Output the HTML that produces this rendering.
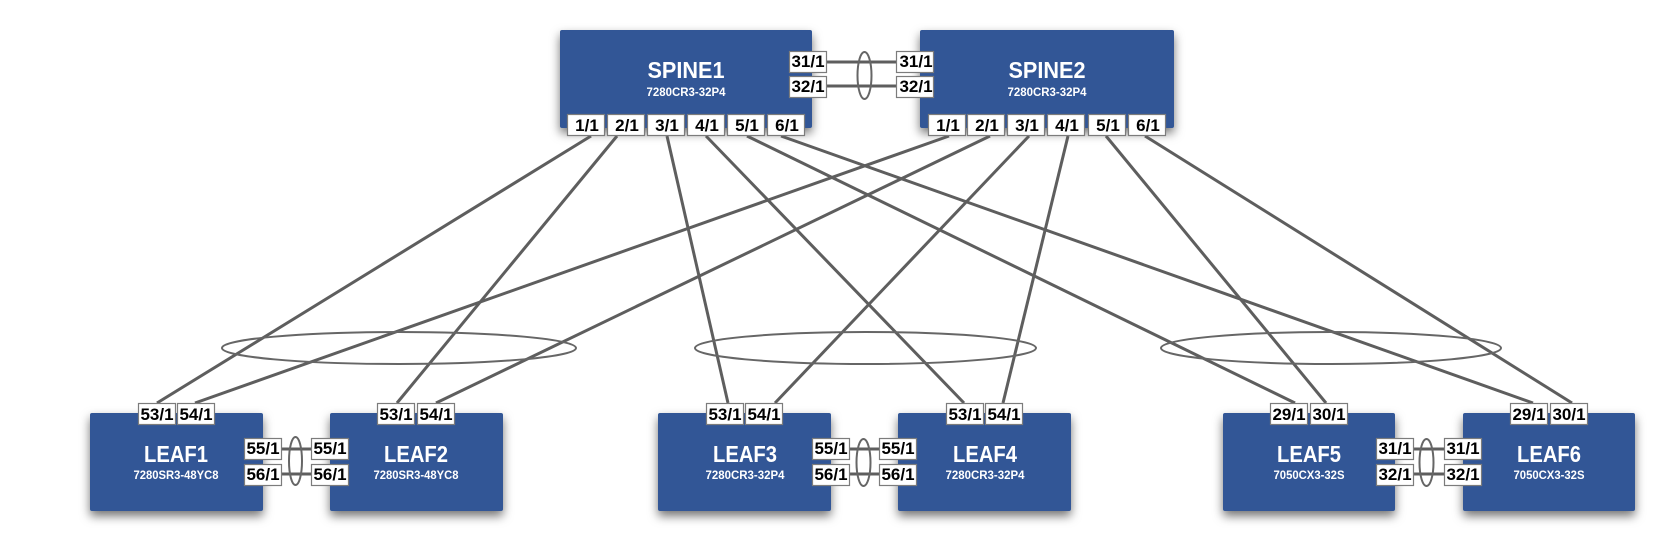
<!DOCTYPE html>
<html><head><meta charset="utf-8"><style>
html,body{margin:0;padding:0;background:#fff;width:1672px;height:544px;overflow:hidden}
svg{display:block}
text{font-family:"Liberation Sans",sans-serif;font-weight:bold;text-anchor:middle}
.n{fill:#fff;font-size:23px}
.s{fill:#fff;font-size:12px}
.p{fill:#000;font-size:17px}
.b{fill:#305796;rx:2px;ry:2px;filter:url(#sh)}
.r{fill:#fff;stroke:#7c7c7c;stroke-width:1.2}
.l line{stroke:#5e5e5e;stroke-width:3}
.e{fill:none;stroke:#666;stroke-width:2}
</style></head><body>
<svg width="1672" height="544" viewBox="0 0 1672 544" xmlns="http://www.w3.org/2000/svg">
<defs><filter id="sh" x="-15%" y="-20%" width="130%" height="150%"><feDropShadow dx="0" dy="5" stdDeviation="5" flood-color="#000" flood-opacity=".55"/></filter></defs>

<rect class="b" x="560" y="30" width="252" height="98"/>
<rect class="b" x="920" y="30" width="254" height="98"/>
<rect class="b" x="90" y="413" width="173" height="98"/>
<rect class="b" x="330" y="413" width="173" height="98"/>
<rect class="b" x="658" y="413" width="173" height="98"/>
<rect class="b" x="898" y="413" width="173" height="98"/>
<rect class="b" x="1223" y="413" width="172" height="98"/>
<rect class="b" x="1463" y="413" width="172" height="98"/>

<g class="l">
<line x1="591" y1="136" x2="157" y2="403"/>
<line x1="617" y1="136" x2="397" y2="403"/>
<line x1="667" y1="136" x2="728" y2="403"/>
<line x1="706" y1="136" x2="964" y2="403"/>
<line x1="747" y1="136" x2="1295" y2="403"/>
<line x1="781" y1="136" x2="1533" y2="403"/>
<line x1="949" y1="136" x2="195" y2="403"/>
<line x1="990" y1="136" x2="436" y2="403"/>
<line x1="1029" y1="136" x2="775" y2="403"/>
<line x1="1068" y1="136" x2="1003" y2="403"/>
<line x1="1106" y1="136" x2="1326" y2="403"/>
<line x1="1145" y1="136" x2="1572" y2="403"/>
<line x1="827" y1="62" x2="896" y2="62"/>
<line x1="827" y1="86" x2="896" y2="86"/>
<line x1="282" y1="449" x2="311" y2="449"/>
<line x1="282" y1="474" x2="311" y2="474"/>
<line x1="850" y1="449" x2="879" y2="449"/>
<line x1="850" y1="474" x2="879" y2="474"/>
<line x1="1414" y1="449" x2="1444" y2="449"/>
<line x1="1414" y1="474" x2="1444" y2="474"/>
</g>

<ellipse class="e" cx="864.500" cy="75.500" rx="7" ry="23.500"/>
<ellipse class="e" cx="295.500" cy="461" rx="6.500" ry="24"/>
<ellipse class="e" cx="863.500" cy="462.500" rx="7" ry="23.500"/>
<ellipse class="e" cx="1426.500" cy="462.500" rx="7" ry="23.500"/>
<ellipse class="e" cx="399" cy="348" rx="177" ry="16"/>
<ellipse class="e" cx="865.500" cy="348" rx="170.500" ry="16"/>
<ellipse class="e" cx="1331" cy="348" rx="170" ry="16"/>

<text class="n" x="686" y="78" textLength="77" lengthAdjust="spacingAndGlyphs">SPINE1</text>
<text class="s" x="686" y="96" textLength="79" lengthAdjust="spacingAndGlyphs">7280CR3-32P4</text>
<text class="n" x="1047" y="78" textLength="77" lengthAdjust="spacingAndGlyphs">SPINE2</text>
<text class="s" x="1047" y="96" textLength="79" lengthAdjust="spacingAndGlyphs">7280CR3-32P4</text>
<text class="n" x="176" y="462" textLength="64" lengthAdjust="spacingAndGlyphs">LEAF1</text>
<text class="s" x="176" y="479" textLength="85" lengthAdjust="spacingAndGlyphs">7280SR3-48YC8</text>
<text class="n" x="416" y="462" textLength="64" lengthAdjust="spacingAndGlyphs">LEAF2</text>
<text class="s" x="416" y="479" textLength="85" lengthAdjust="spacingAndGlyphs">7280SR3-48YC8</text>
<text class="n" x="745" y="462" textLength="64" lengthAdjust="spacingAndGlyphs">LEAF3</text>
<text class="s" x="745" y="479" textLength="79" lengthAdjust="spacingAndGlyphs">7280CR3-32P4</text>
<text class="n" x="985" y="462" textLength="64" lengthAdjust="spacingAndGlyphs">LEAF4</text>
<text class="s" x="985" y="479" textLength="79" lengthAdjust="spacingAndGlyphs">7280CR3-32P4</text>
<text class="n" x="1309" y="462" textLength="64" lengthAdjust="spacingAndGlyphs">LEAF5</text>
<text class="s" x="1309" y="479" textLength="71" lengthAdjust="spacingAndGlyphs">7050CX3-32S</text>
<text class="n" x="1549" y="462" textLength="64" lengthAdjust="spacingAndGlyphs">LEAF6</text>
<text class="s" x="1549" y="479" textLength="71" lengthAdjust="spacingAndGlyphs">7050CX3-32S</text>

<rect class="r" x="567.500" y="114.500" width="37" height="21"/><text class="p" x="587" y="131">1/1</text>
<rect class="r" x="607.500" y="114.500" width="37" height="21"/><text class="p" x="627" y="131">2/1</text>
<rect class="r" x="647.500" y="114.500" width="37" height="21"/><text class="p" x="667" y="131">3/1</text>
<rect class="r" x="687.500" y="114.500" width="37" height="21"/><text class="p" x="707" y="131">4/1</text>
<rect class="r" x="727.500" y="114.500" width="37" height="21"/><text class="p" x="747" y="131">5/1</text>
<rect class="r" x="767.500" y="114.500" width="37" height="21"/><text class="p" x="787" y="131">6/1</text>
<rect class="r" x="789.500" y="51.500" width="37" height="21"/><text class="p" x="808" y="67">31/1</text>
<rect class="r" x="789.500" y="76.500" width="37" height="21"/><text class="p" x="808" y="92">32/1</text>

<rect class="r" x="928.500" y="114.500" width="37" height="21"/><text class="p" x="948" y="131">1/1</text>
<rect class="r" x="967.500" y="114.500" width="37" height="21"/><text class="p" x="987" y="131">2/1</text>
<rect class="r" x="1007.500" y="114.500" width="37" height="21"/><text class="p" x="1027" y="131">3/1</text>
<rect class="r" x="1047.500" y="114.500" width="37" height="21"/><text class="p" x="1067" y="131">4/1</text>
<rect class="r" x="1088.500" y="114.500" width="37" height="21"/><text class="p" x="1108" y="131">5/1</text>
<rect class="r" x="1128.500" y="114.500" width="37" height="21"/><text class="p" x="1148" y="131">6/1</text>
<rect class="r" x="896.500" y="51.500" width="37" height="21"/><text class="p" x="916" y="67">31/1</text>
<rect class="r" x="896.500" y="76.500" width="37" height="21"/><text class="p" x="916" y="92">32/1</text>

<rect class="r" x="138.500" y="403.500" width="37" height="21"/><text class="p" x="157" y="420">53/1</text>
<rect class="r" x="177.500" y="403.500" width="37" height="21"/><text class="p" x="196" y="420">54/1</text>
<rect class="r" x="377.500" y="403.500" width="37" height="21"/><text class="p" x="396" y="420">53/1</text>
<rect class="r" x="417.500" y="403.500" width="37" height="21"/><text class="p" x="436" y="420">54/1</text>
<rect class="r" x="244.500" y="438.500" width="37" height="21"/><text class="p" x="263" y="454">55/1</text>
<rect class="r" x="244.500" y="464.500" width="37" height="21"/><text class="p" x="263" y="480">56/1</text>
<rect class="r" x="311.500" y="438.500" width="37" height="21"/><text class="p" x="330" y="454">55/1</text>
<rect class="r" x="311.500" y="464.500" width="37" height="21"/><text class="p" x="330" y="480">56/1</text>

<rect class="r" x="706.500" y="403.500" width="37" height="21"/><text class="p" x="725" y="420">53/1</text>
<rect class="r" x="745.500" y="403.500" width="37" height="21"/><text class="p" x="764" y="420">54/1</text>
<rect class="r" x="946.500" y="403.500" width="37" height="21"/><text class="p" x="965" y="420">53/1</text>
<rect class="r" x="985.500" y="403.500" width="37" height="21"/><text class="p" x="1004" y="420">54/1</text>
<rect class="r" x="812.500" y="438.500" width="37" height="21"/><text class="p" x="831" y="454">55/1</text>
<rect class="r" x="812.500" y="464.500" width="37" height="21"/><text class="p" x="831" y="480">56/1</text>
<rect class="r" x="879.500" y="438.500" width="37" height="21"/><text class="p" x="898" y="454">55/1</text>
<rect class="r" x="879.500" y="464.500" width="37" height="21"/><text class="p" x="898" y="480">56/1</text>

<rect class="r" x="1270.500" y="403.500" width="37" height="21"/><text class="p" x="1289" y="420">29/1</text>
<rect class="r" x="1310.500" y="403.500" width="37" height="21"/><text class="p" x="1329" y="420">30/1</text>
<rect class="r" x="1510.500" y="403.500" width="37" height="21"/><text class="p" x="1529" y="420">29/1</text>
<rect class="r" x="1550.500" y="403.500" width="37" height="21"/><text class="p" x="1569" y="420">30/1</text>
<rect class="r" x="1376.500" y="438.500" width="37" height="21"/><text class="p" x="1395" y="454">31/1</text>
<rect class="r" x="1376.500" y="464.500" width="37" height="21"/><text class="p" x="1395" y="480">32/1</text>
<rect class="r" x="1444.500" y="438.500" width="37" height="21"/><text class="p" x="1463" y="454">31/1</text>
<rect class="r" x="1444.500" y="464.500" width="37" height="21"/><text class="p" x="1463" y="480">32/1</text>
</svg>
</body></html>
